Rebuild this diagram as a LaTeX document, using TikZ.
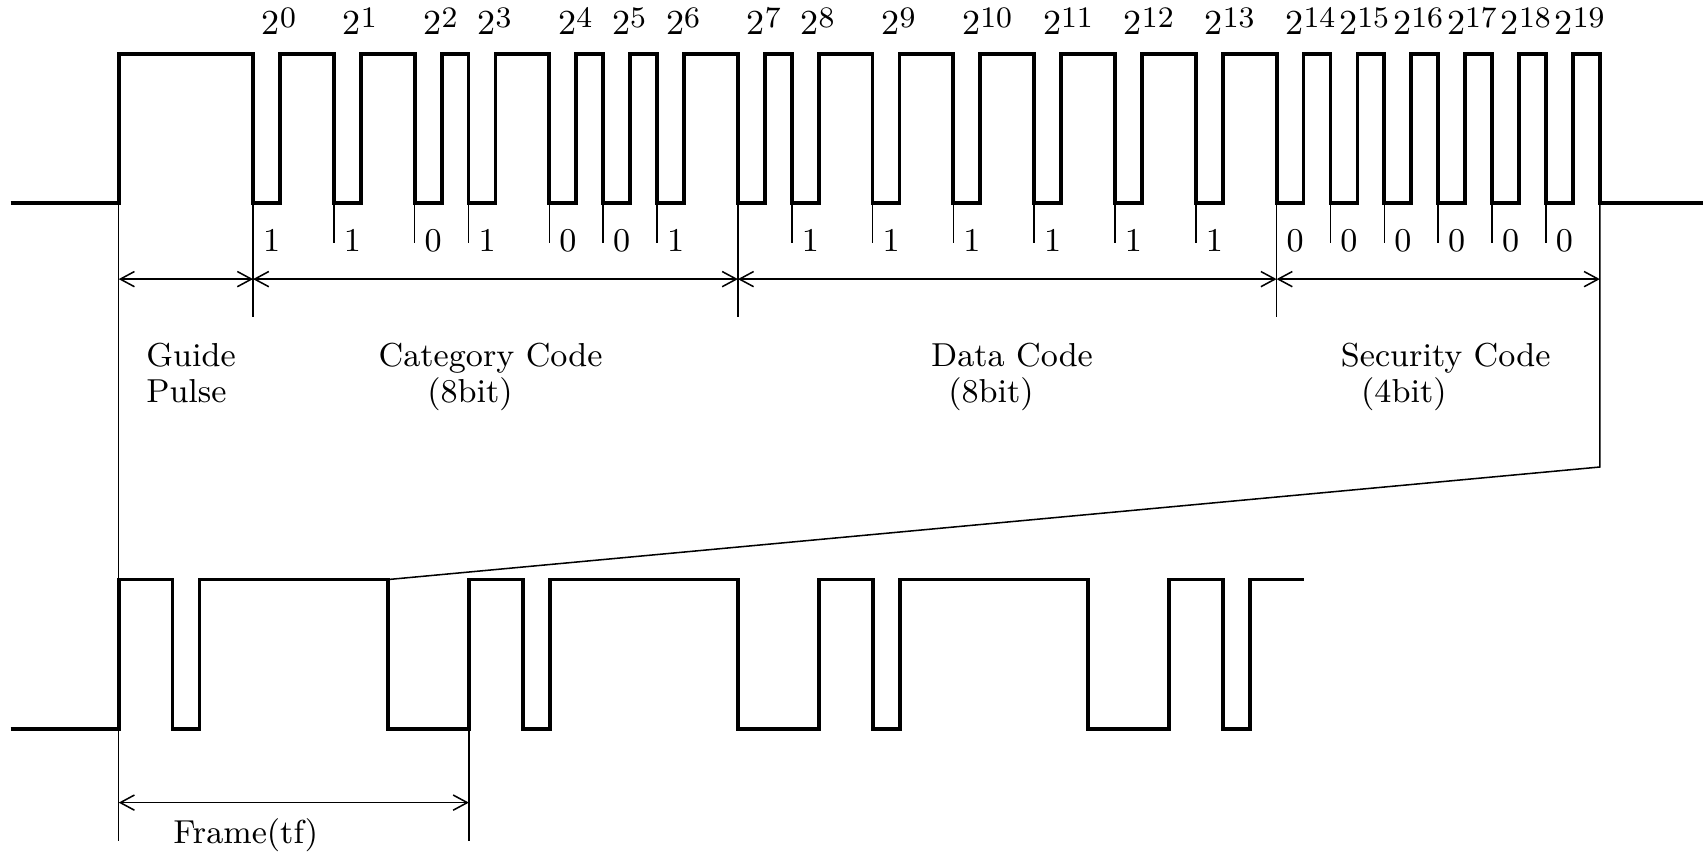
\documentclass[tikz,border=0pt]{standalone}
\usetikzlibrary{arrows.meta}

\begin{document}
\begin{tikzpicture}[x=0.1mm,y=0.1mm]
  % Settings
  \tikzset{
    wave/.style={line width=1pt},
    thinline/.style={line width=0.4pt},
    dimline/.style={line width=0.4pt, {Straight Barb[length=1.3mm,width=1.4mm]}-{Straight Barb[length=1.3mm,width=1.4mm]}},
    txt/.style={anchor=base west, inner sep=0pt, font=\fontsize{8.7}{10}\selectfont},
    weight/.style={anchor=base west, inner sep=0pt, font=\fontsize{9.2}{10}\selectfont},
  }
  \useasboundingbox (0,0) rectangle (1568,793);

  % Upper wave: guide pulse, then one low slot and one (0) or two (1) high slots per bit
  \draw[wave] (9.8,606) -- (109.3,606) -- (109.3,743)
    \foreach \x/\b in {233/1,307.4/1,381.8/0,431.4/1,505.8/0,555.4/0,605/1,679.4/0,729/1,803.4/1,
                       877.8/1,952.2/1,1026.6/1,1101/1,1175.4/0,1225/0,1274.6/0,1324.2/0,1373.8/0,1423.4/0}
    { -- (\x,743) -- (\x,606) -- ++(24.8,0) -- ++(0,137) }
    -- (1473,743) -- (1473,606) -- (1568,606);

  % Bit weights, ticks and values
  \foreach \x/\e/\b in {233/0/1,307.4/1/1,381.8/2/0,431.4/3/1,505.8/4/0,555.4/5/0,605/6/1,679.4/7/{},
                        729/8/1,803.4/9/1,877.8/10/1,952.2/11/1,1026.6/12/1,1101/13/1,1175.4/14/0,
                        1225/15/0,1274.6/16/0,1324.2/17/0,1373.8/18/0,1423.4/19/0} {
    \draw[thinline] (\x,606) -- (\x,569.6);
    \node[weight] at (\x+7.5,761) {2\raisebox{2pt}{\fontsize{7.8}{9}\selectfont\e}};
    \node[txt] at (\x+8.5,561.3) {\b};
  }

  % Section borders
  \coordinate (d0) at (109.3,536);
  \coordinate (d1) at (233,536);
  \coordinate (d2) at (679.4,536);
  \coordinate (d3) at (1175.4,536);
  \coordinate (d4) at (1473,536);
  \foreach \x in {233,679.4,1175.4} {\draw[thinline] (\x,606) -- (\x,501);}
  \draw[thinline] (109.3,606) -- (109.3,19);
  \coordinate (zoom) at (357.3,259.4);
  \draw[thinline] (1473,606) -- (1473,363) -- (zoom);

  % Arrows
  \draw[dimline] (d0) -- (d1);
  \draw[dimline] (d1) -- (d2);
  \draw[dimline] (d2) -- (d3);
  \draw[dimline] (d3) -- (d4);

  % Section names
  \node[txt] (guide) at (134,455.5) {Guide};
  \node[txt] (pulse) at (134,422) {Pulse};
  \node[txt] (cat) at (348,455.5) {Category Code};
  \node[txt] (catbits) at (392.7,422) {(8bit)};
  \node[txt] (data) at (856.7,455.5) {Data Code};
  \node[txt] (databits) at (872.5,422) {(8bit)};
  \node[txt] (sec) at (1233.9,455.5) {Security Code};
  \node[txt] (secbits) at (1252.6,422) {(4bit)};

  % Lower wave: repeated frames
  \draw[wave] (9.8,122) -- (109.3,122)
    \foreach \s in {109.3,431.7,754.1}
    { -- (\s,122) -- (\s,259.4) -- ++(49.6,0) -- ++(0,-137.4) -- ++(24.8,0) -- ++(0,137.4)
      -- ++(173.6,0) -- ++(0,-137.4) }
    -- (1076.5,122) -- (1076.5,259.4) -- ++(49.6,0) -- ++(0,-137.4) -- ++(24.8,0) -- ++(0,137.4) -- ++(49.6,0);

  % Frame length
  \coordinate (f0) at (109.3,54);
  \coordinate (f1) at (431.7,54);
  \draw[thinline] (431.7,122) -- (431.7,19);
  \draw[dimline] (f0) -- (f1);
  \node[txt] (frame) at (159,16.5) {Frame(tf)};

\end{tikzpicture}
\end{document}
